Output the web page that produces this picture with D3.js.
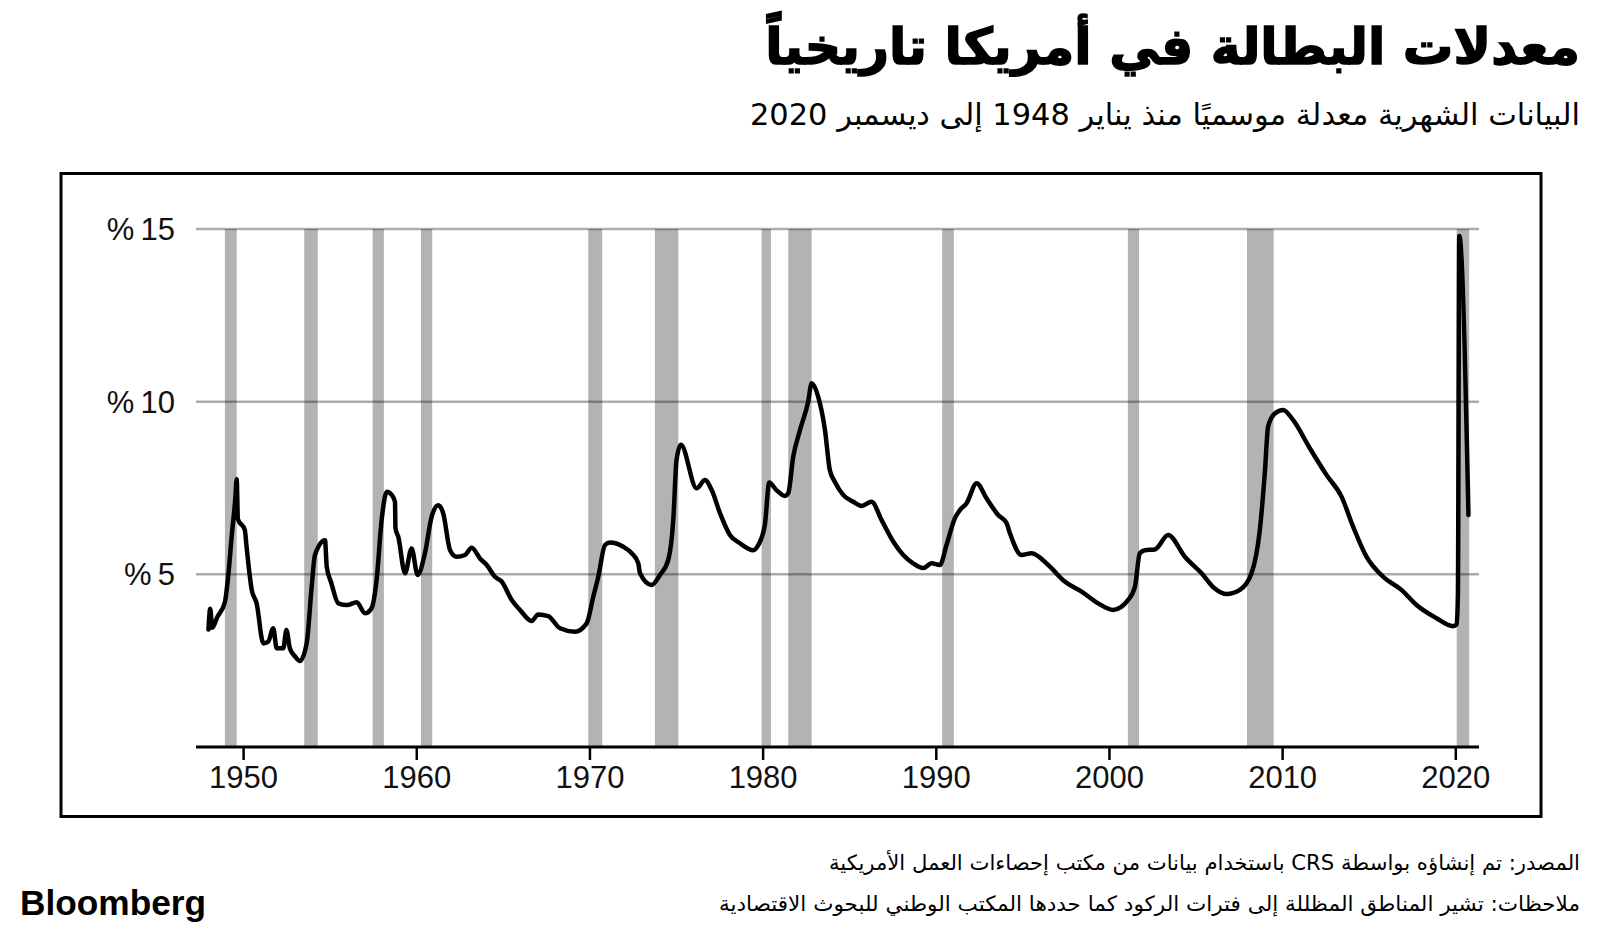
<!DOCTYPE html>
<html><head><meta charset="utf-8">
<script src="https://cdn.jsdelivr.net/npm/d3@7"></script>
<style>
html,body{margin:0;padding:0;background:#fff;}
svg{display:block;}
</style></head>
<body>
<svg id="chart" width="1600" height="935"></svg>
<script>
// ---- data ----
const years = [1948.0,1948.1,1948.22,1948.5,1948.95,1949.15,1949.34,1949.55,1949.63,1949.7,1950.1,1950.2,1950.5,1950.78,1951.17,1951.45,1951.74,1951.94,1952.32,1952.5,1952.7,1953.0,1953.28,1953.67,1953.96,1954.15,1954.73,1954.83,1955.1,1955.5,1956.0,1956.56,1957.04,1957.42,1957.71,1958.0,1958.3,1958.58,1958.77,1958.8,1958.96,1959.35,1959.73,1960.08,1960.5,1960.89,1961.27,1961.56,1961.95,1962.33,1962.81,1963.2,1963.68,1964.07,1964.54,1964.93,1965.51,1965.99,1966.66,1967.04,1967.62,1968.3,1969.16,1969.84,1970.22,1970.51,1970.9,1971.18,1971.95,1972.44,1972.82,1972.92,1973.59,1974.07,1974.55,1974.84,1975.03,1975.28,1976.19,1976.67,1977.06,1977.54,1978.11,1978.69,1979.46,1979.75,1980.13,1980.38,1980.8,1981.29,1981.48,1981.77,1982.16,1982.63,1982.83,1983.21,1983.6,1983.88,1984.17,1984.65,1985.23,1985.71,1986.29,1986.87,1987.54,1988.12,1988.69,1989.27,1989.76,1990.24,1990.62,1991.1,1991.39,1991.78,1992.36,1992.93,1993.6,1994.09,1994.28,1994.95,1995.53,1996.49,1997.45,1998.42,1999.38,2000.24,2001.11,2001.5,2001.78,2002.07,2002.65,2003.42,2004.38,2005.35,2006.11,2006.79,2007.56,2008.23,2008.71,2009.0,2009.19,2009.58,2010.06,2010.63,2011.6,2012.56,2013.43,2014.1,2014.87,2015.83,2016.89,2017.76,2018.91,2019.87,2020.08,2020.15,2020.23,2020.76];
const rates = [3.4,4.0,3.45,3.75,4.2,5.0,6.1,7.2,7.75,6.6,6.28,5.8,4.55,4.16,3.0,3.05,3.44,2.86,2.86,3.39,2.86,2.62,2.49,3.0,4.64,5.56,5.99,5.22,4.74,4.16,4.11,4.19,3.87,4.02,4.84,6.57,7.39,7.3,7.1,6.33,6.09,5.03,5.75,4.98,5.61,6.67,7.0,6.76,5.7,5.51,5.56,5.77,5.46,5.27,4.93,4.79,4.26,3.97,3.65,3.84,3.79,3.44,3.34,3.58,4.35,4.93,5.85,5.92,5.8,5.61,5.32,5.03,4.69,4.98,5.42,6.57,8.31,8.75,7.49,7.73,7.44,6.77,6.14,5.9,5.7,5.85,6.43,7.66,7.44,7.27,7.35,8.41,9.18,10.0,10.53,10.14,9.18,8.02,7.68,7.3,7.1,6.98,7.1,6.57,5.95,5.56,5.32,5.18,5.32,5.27,5.85,6.62,6.86,7.06,7.64,7.2,6.72,6.48,6.19,5.56,5.61,5.27,4.79,4.5,4.16,3.97,4.26,4.64,5.61,5.7,5.72,6.14,5.51,5.03,4.59,4.43,4.55,5.03,6.28,7.93,9.28,9.66,9.76,9.47,8.65,7.88,7.25,6.38,5.51,4.93,4.55,4.11,3.73,3.5,3.55,4.4,14.8,6.72];
const recessionStart = [1948.95,1953.53,1957.48,1960.27,1969.93,1973.78,1979.94,1981.48,1990.37,2001.09,2007.97,2020.08];
const recessionEnd   = [1949.63,1954.31,1958.13,1960.92,1970.74,1975.13,1980.48,1982.83,1991.04,2001.74,2009.51,2020.8];
const xTickYears = [1950,1960,1970,1980,1990,2000,2010,2020];
const yTickValues = [5,10,15];
const titleText = "معدلات البطالة في أمريكا تاريخياً";
const subtitleText = "البيانات الشهرية معدلة موسميًا منذ يناير 1948 إلى ديسمبر 2020";
const sourceText = "المصدر: تم إنشاؤه بواسطة CRS باستخدام بيانات من مكتب إحصاءات العمل الأمريكية";
const notesText = "ملاحظات: تشير المناطق المظللة إلى فترات الركود كما حددها المكتب الوطني للبحوث الاقتصادية";
const brandText = "Bloomberg";

const svg = d3.select("#chart");
const arabicFont = "'DejaVu Sans', sans-serif";
const latinFont = "'Liberation Sans', Arial, sans-serif";

// frame
svg.append("rect").attr("x",61).attr("y",173.5).attr("width",1480).attr("height",643)
  .attr("fill","none").attr("stroke","#000").attr("stroke-width",3);

const x = d3.scaleLinear().domain([1950,2020]).range([243.1,1455.3]);
const y = d3.scaleLinear().domain([0,15]).range([747,229]);
const gridX0 = 196, gridX1 = 1479;

// recession bands
svg.append("g").selectAll("rect").data(recessionStart).join("rect")
  .attr("x",(d)=>x(d)).attr("width",(d,i)=>x(recessionEnd[i])-x(d))
  .attr("y",y(15)).attr("height",y(0)-y(15))
  .attr("fill","#b3b3b3");

// gridlines
svg.append("g").selectAll("line").data(yTickValues).join("line")
  .attr("x1",gridX0).attr("x2",gridX1).attr("y1",d=>y(d)).attr("y2",d=>y(d))
  .attr("stroke","#000").attr("stroke-opacity",0.32).attr("stroke-width",2.5);

// y labels
svg.append("g").selectAll("text").data(yTickValues).join("text")
  .attr("x",175).attr("y",d=>y(d)).attr("dy","0.36em")
  .attr("text-anchor","end").attr("font-family",latinFont).attr("font-size",31)
  .attr("fill","#111").text(d=>"%\u2009"+d);

// x axis
const xAxis = d3.axisBottom(x).tickValues(xTickYears).tickFormat(d3.format("d")).tickSize(13).tickPadding(6);
const gx = svg.append("g").attr("transform",`translate(0,${y(0)})`).call(xAxis);
gx.select(".domain").remove();
gx.selectAll(".tick line").attr("stroke","#000").attr("stroke-width",2.5);
gx.selectAll(".tick text").attr("font-family",latinFont).attr("font-size",31).attr("fill","#111");
svg.append("line").attr("x1",gridX0).attr("x2",gridX1).attr("y1",y(0)).attr("y2",y(0))
  .attr("stroke","#000").attr("stroke-width",3);

// line
const pts = years.map((yr,i)=>[yr,rates[i]]);
const line = d3.line().x(d=>x(d[0])).y(d=>y(d[1])).curve(d3.curveMonotoneX);
svg.append("path").datum(pts).attr("d",line).attr("fill","none")
  .attr("stroke","#000").attr("stroke-width",4.5).attr("stroke-linejoin","round").attr("stroke-linecap","round");

// texts
function rtlText(txt, xr, yb, size, weight, len){
  const t = svg.append("text").attr("x",xr).attr("y",yb)
    .attr("direction","rtl").attr("text-anchor","start")
    .attr("font-family",arabicFont).attr("font-size",size).attr("font-weight",weight)
    .attr("fill","#000").text(txt);
  if(len){ t.attr("textLength",len).attr("lengthAdjust","spacingAndGlyphs"); }
  return t;
}
// title: pure Arabic run, anchored at its right end; size fitted to the reference width
const title = svg.append("text").attr("x",1580).attr("y",64).attr("text-anchor","end")
  .attr("font-family",arabicFont).attr("font-size",60).attr("font-weight","bold")
  .attr("fill","#000").attr("stroke","#000").attr("stroke-width",1.5).text(titleText);
const tw = title.node().getComputedTextLength();
if (tw > 0) title.attr("font-size", Math.min(66, 60*815/tw));
rtlText(subtitleText,1580,125,30,"normal",830);
rtlText(sourceText,1580,870,21,"normal",751);
rtlText(notesText,1580,911,21,"normal",861);

svg.append("text").attr("x",20).attr("y",915).attr("font-family",latinFont)
  .attr("font-weight","bold").attr("font-size",35).attr("textLength",186)
  .attr("lengthAdjust","spacingAndGlyphs").attr("fill","#000").text(brandText);
</script>
</body></html>
